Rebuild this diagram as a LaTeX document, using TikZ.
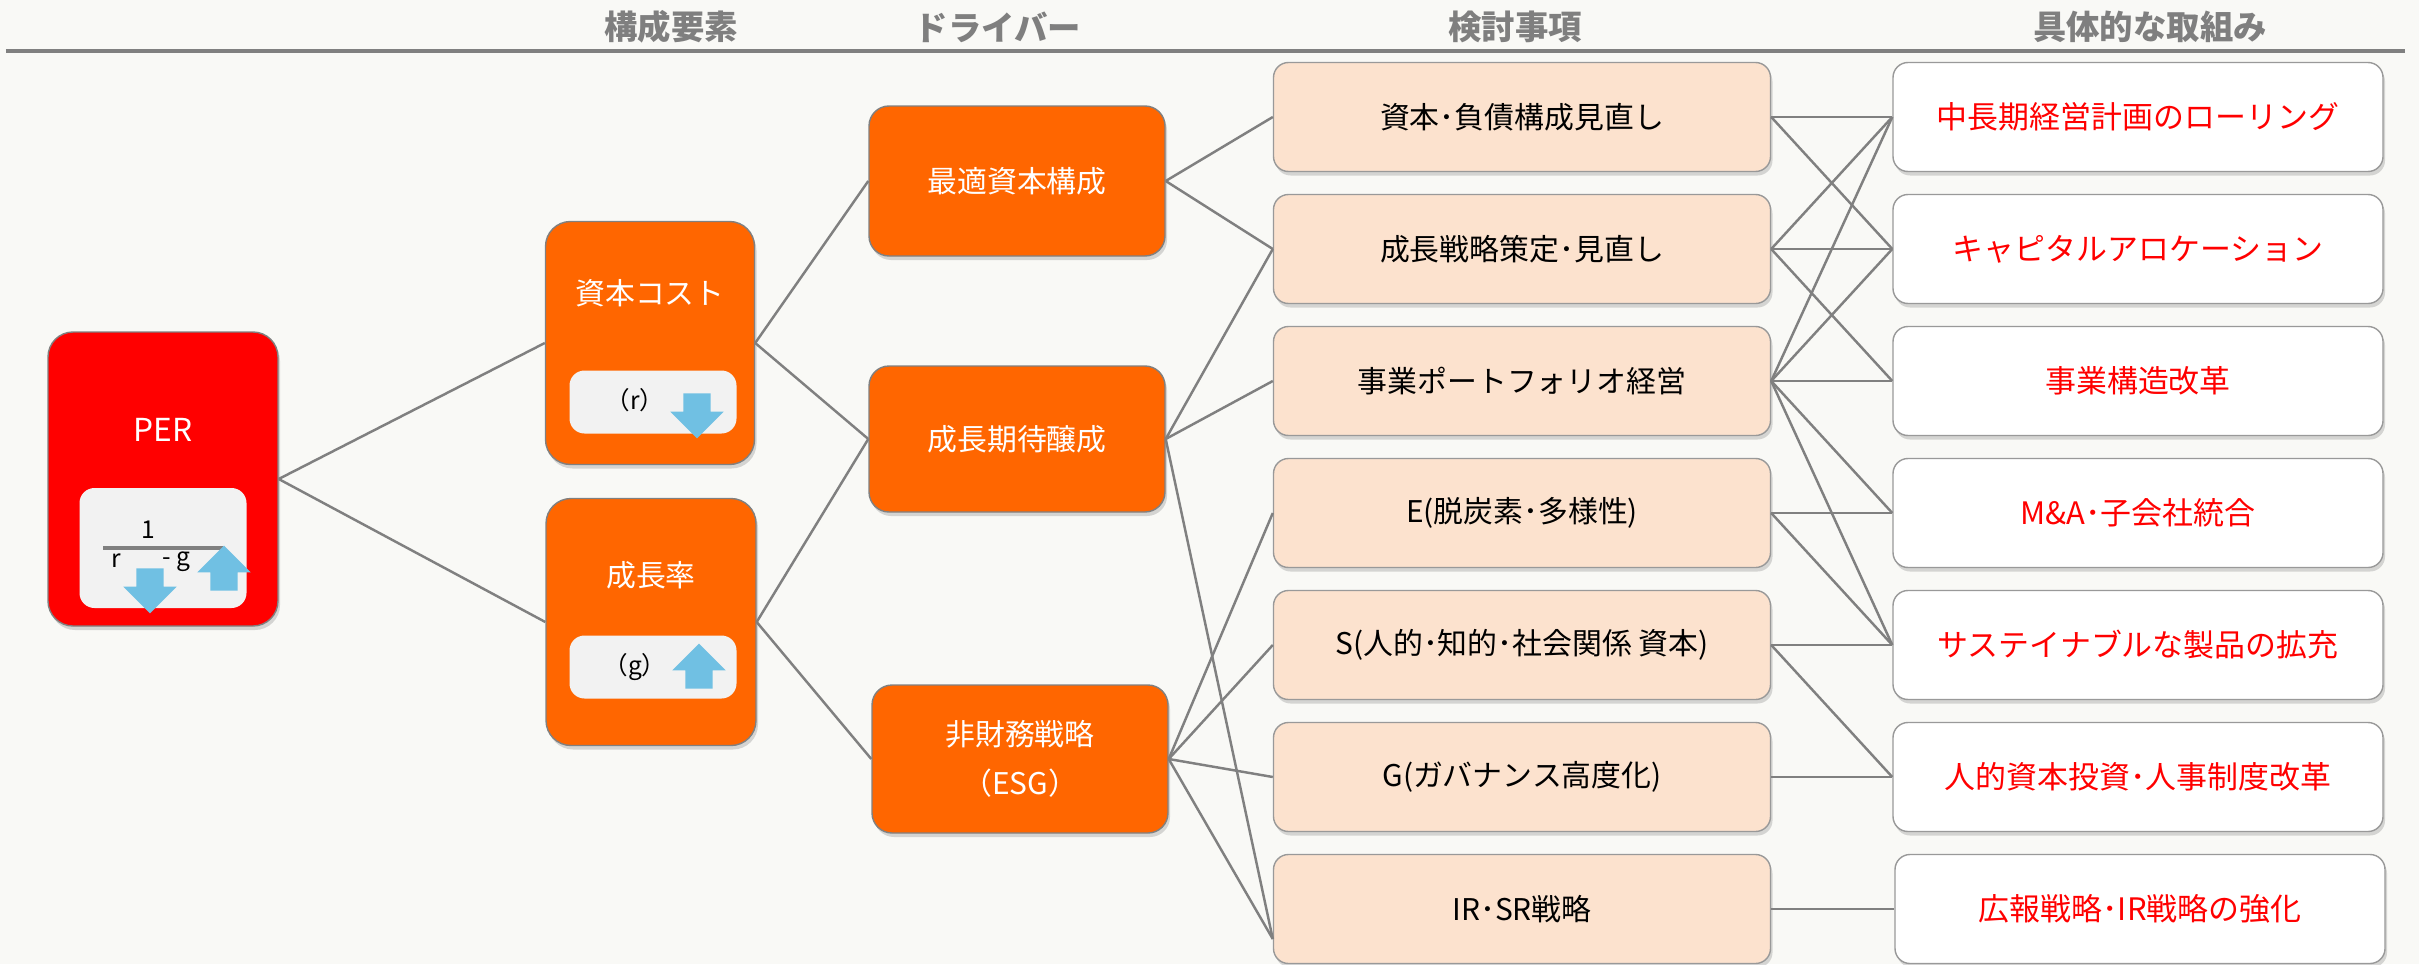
\documentclass[tikz,border=0pt]{standalone}
\usepackage{fontspec}
\setmainfont{Noto Sans CJK JP}
\usepackage{tikz}
\usetikzlibrary{shapes,arrows,positioning,fit,calc,shadows}

\definecolor{bgpaper}{RGB}{249,249,246}
\definecolor{perred}{RGB}{255,0,0}
\definecolor{drvorange}{RGB}{255,102,0}
\definecolor{peach}{RGB}{252,226,206}
\definecolor{innergray}{RGB}{242,242,242}
\definecolor{linegray}{RGB}{128,128,128}
\definecolor{arrowblue}{RGB}{112,192,227}
\definecolor{headgray}{RGB}{127,127,127}

\begin{document}
\begin{tikzpicture}[
  every node/.style={font=\fontsize{8.5}{10}\selectfont},
  softshadow/.style={drop shadow={shadow xshift=0.02cm,shadow yshift=-0.04cm,opacity=0.3}},
  perbox/.style={draw=linegray,line width=0.4pt,fill=perred,rounded corners=0.25cm,minimum width=2.30cm,minimum height=2.94cm,softshadow},
  orangebox/.style={draw=linegray,line width=0.4pt,fill=drvorange,rounded corners=0.2cm,text=white,softshadow},
  innerbox/.style={fill=innergray,rounded corners=0.15cm,minimum width=1.67cm},
  itembox/.style={draw=linegray!80,fill=peach,rounded corners=0.15cm,minimum width=4.97cm,minimum height=1.09cm,softshadow},
  actbox/.style={draw=linegray!80,fill=white,rounded corners=0.15cm,minimum width=4.90cm,minimum height=1.09cm,text=red,font=\fontsize{8.8}{10}\selectfont,softshadow},
  small/.style={font=\fontsize{7}{8}\selectfont},
  head/.style={text=headgray,font=\fontsize{9.5}{11}\selectfont\bfseries},
  link/.style={draw=linegray,line width=0.7pt},
  downarrow/.style={single arrow,fill=arrowblue,inner sep=0.13cm,minimum height=0.45cm,single arrow head extend=0.13cm,shape border rotate=270},
  uparrow/.style={downarrow,shape border rotate=90},
]

% background and page size
\fill[bgpaper] (0,0) rectangle (24.19,-9.64);
\useasboundingbox (0,0) rectangle (24.19,-9.64);

% column headers
\node[head] (hcomp) at (6.71,-0.27) {構成要素};
\node[head] (hdrv) at (9.98,-0.27) {ドライバー};
\node[head] (hitem) at (15.15,-0.27) {検討事項};
\node[head] (hact) at (21.50,-0.27) {具体的な取組み};
\draw[linegray,line width=1pt] (0.06,-0.51) -- (24.05,-0.51);

% PER
\node[perbox] (per) at (1.63,-4.79) {};
\node[text=white,font=\fontsize{9}{10}\selectfont] (perlbl) at (1.63,-4.30) {PER};
\node[innerbox,minimum height=1.20cm] (perin) at (1.63,-5.48) {};
\node[small] (one) at (1.48,-5.30) {1};
\draw[linegray,line width=1pt] (1.03,-5.48) -- (2.23,-5.48);
\node[downarrow] (perdn) at (1.50,-5.84) {};
\node[uparrow] (perup) at (2.24,-5.75) {};
\node[small] (rr) at (1.16,-5.61) {r};
\node[small] (gg) at (1.76,-5.62) {- g};

% components (left, center at x=6.5)
\node[orangebox,minimum width=2.09cm,minimum height=2.43cm,rounded corners=0.25cm] (cost) at (6.50,-3.43) {};
\node[text=white] (costlbl) at (6.50,-2.93) {資本コスト};
\node[innerbox,minimum height=0.63cm] (costin) at (6.53,-4.02) {};
\node[small] (rlbl) at (6.35,-4.00) {（r）};
\node[downarrow] (rdn) at (6.97,-4.09) {};

\node[orangebox,minimum width=2.10cm,minimum height=2.47cm,rounded corners=0.25cm] (growth) at (6.51,-6.22) {};
\node[text=white] (growthlbl) at (6.51,-5.75) {成長率};
\node[innerbox,minimum height=0.63cm] (growthin) at (6.53,-6.67) {};
\node[small] (glbl) at (6.35,-6.67) {（g）};
\node[uparrow] (gup) at (6.99,-6.73) {};

% drivers (center at x=10.2)
\node[orangebox,minimum width=2.96cm,minimum height=1.50cm] (opt) at (10.17,-1.81) {最適資本構成};
\node[orangebox,minimum width=2.96cm,minimum height=1.46cm] (expect) at (10.17,-4.39) {成長期待醸成};
\node[orangebox,minimum width=2.96cm,minimum height=1.48cm,align=center,font=\fontsize{8.5}{14}\selectfont] (esg) at (10.20,-7.59) {非財務戦略\\（ESG）};

% items to examine (center at x=15.2)
\node[itembox] (k1) at (15.22,-1.17) {資本･負債構成見直し};
\node[itembox] (k2) at (15.22,-2.49) {成長戦略策定･見直し};
\node[itembox] (k3) at (15.22,-3.81) {事業ポートフォリオ経営};
\node[itembox] (k4) at (15.22,-5.13) {E(脱炭素･多様性)};
\node[itembox] (k5) at (15.22,-6.45) {S(人的･知的･社会関係 資本)};
\node[itembox] (k6) at (15.22,-7.77) {G(ガバナンス高度化)};
\node[itembox] (k7) at (15.22,-9.09) {IR･SR戦略};

% concrete actions (right, center at x=21.4)
\node[actbox] (t1) at (21.38,-1.17) {中長期経営計画のローリング};
\node[actbox] (t2) at (21.38,-2.49) {キャピタルアロケーション};
\node[actbox] (t3) at (21.38,-3.81) {事業構造改革};
\node[actbox] (t4) at (21.38,-5.13) {M\&A･子会社統合};
\node[actbox] (t5) at (21.38,-6.45) {サステイナブルな製品の拡充};
\node[actbox] (t6) at (21.38,-7.77) {人的資本投資･人事制度改革};
\node[actbox] (t7) at (21.40,-9.09) {広報戦略･IR戦略の強化};

% links
\draw[link] (per.east) -- (cost.west);
\draw[link] (per.east) -- (growth.west);
\draw[link] (cost.east) -- (opt.west);
\draw[link] (cost.east) -- (expect.west);
\draw[link] (growth.east) -- (expect.west);
\draw[link] (growth.east) -- (esg.west);
\draw[link] (opt.east) -- (k1.west);
\draw[link] (opt.east) -- (k2.west);
\draw[link] (expect.east) -- (k2.west);
\draw[link] (expect.east) -- (k3.west);
\draw[link] (expect.east) -- ([yshift=-3mm]k7.west);
\draw[link] (esg.east) -- (k4.west);
\draw[link] (esg.east) -- (k5.west);
\draw[link] (esg.east) -- (k6.west);
\draw[link] (esg.east) -- ([yshift=-3mm]k7.west);
\draw[link] (k1.east) -- (t1.west);
\draw[link] (k1.east) -- (t2.west);
\draw[link] (k2.east) -- (t1.west);
\draw[link] (k2.east) -- (t2.west);
\draw[link] (k2.east) -- (t3.west);
\draw[link] (k3.east) -- (t1.west);
\draw[link] (k3.east) -- (t2.west);
\draw[link] (k3.east) -- (t3.west);
\draw[link] (k3.east) -- (t4.west);
\draw[link] (k3.east) -- (t5.west);
\draw[link] (k4.east) -- (t4.west);
\draw[link] (k4.east) -- (t5.west);
\draw[link] (k5.east) -- (t5.west);
\draw[link] (k5.east) -- (t6.west);
\draw[link] (k6.east) -- (t6.west);
\draw[link] (k7.east) -- (t7.west);

\end{tikzpicture}
\end{document}
